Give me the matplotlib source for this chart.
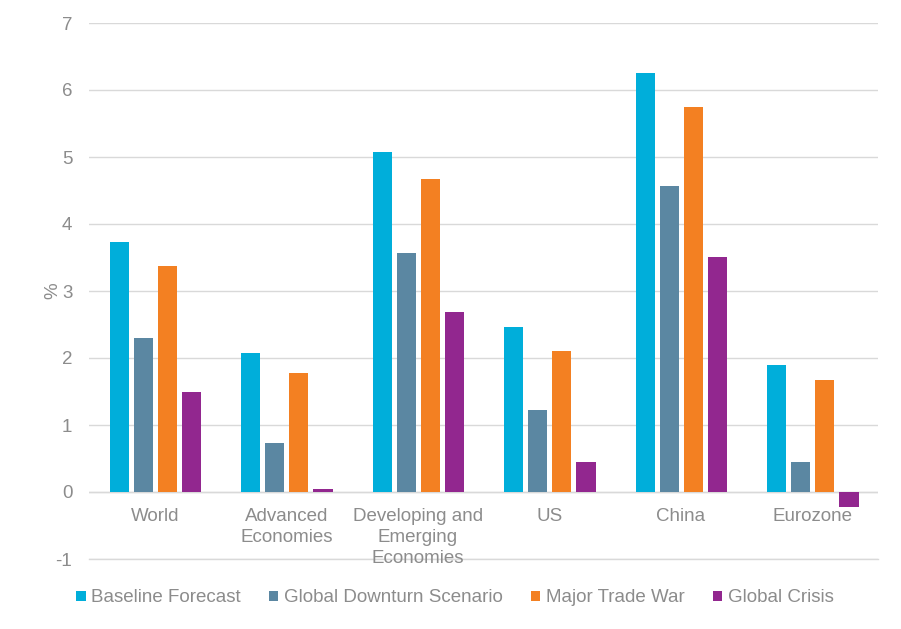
import matplotlib.pyplot as plt
import numpy as np

plt.rcParams['font.family'] = ['Liberation Sans', 'DejaVu Sans']
plt.rcParams['axes.unicode_minus'] = False

categories = ["World", "Advanced\nEconomies", "Developing and\nEmerging\nEconomies", "US", "China", "Eurozone"]
baseline = [3.73, 2.07, 5.07, 2.46, 6.25, 1.90]
downturn = [2.30, 0.73, 3.57, 1.22, 4.57, 0.45]
trade_war = [3.37, 1.78, 4.67, 2.10, 5.75, 1.67]
crisis = [1.49, 0.04, 2.69, 0.45, 3.51, -0.22]

series = [baseline, downturn, trade_war, crisis]
names = ["Baseline Forecast", "Global Downturn Scenario", "Major Trade War", "Global Crisis"]
colors = ["#00AEDA", "#5B87A2", "#F38022", "#92278F"]

fig = plt.figure(figsize=(9.01, 6.29), dpi=100)
ax = fig.add_axes([89/901, 1-559/629, 789/901, 536/629])

x = np.arange(len(categories))
step = 0.183
w = 0.145
for i, (vals, name, c) in enumerate(zip(series, names, colors)):
    ax.bar(x + (i - 1.5)*step + 0.005, vals, width=w, color=c, label=name, zorder=3)

ax.set_xlim(-0.5, len(categories) - 0.5)
ax.set_ylim(-1, 7)
ax.set_yticks(range(-1, 8))
ax.grid(axis='y', color='#D9D9D9', linewidth=1, zorder=0)
for s in ['top', 'right', 'left', 'bottom']:
    ax.spines[s].set_visible(False)
ax.axhline(0, color='#D9D9D9', linewidth=1, zorder=2)
ax.axhline(-1, color='#D9D9D9', linewidth=1, zorder=2, clip_on=False)  # bottom gridline

ax.set_xticks([])
ax.tick_params(axis='y', length=0, colors='#8C8C8C', labelsize=13.5, pad=12)

# category labels just below the zero line
for xi, cat in zip(x, categories):
    ax.text(xi, -0.24, cat, ha='center', va='top', color='#8C8C8C', fontsize=13.5,
            linespacing=1.3)

ax.set_ylabel("%", color='#8C8C8C', fontsize=13.5, labelpad=-4)

fig.legend(loc='center', bbox_to_anchor=(0.505, 1-598/629), ncol=4, frameon=False,
           fontsize=13.5, handlelength=0.5, handleheight=0.5, handletextpad=0.3,
           columnspacing=1.5, labelcolor='#8C8C8C')

fig.savefig("out.png", dpi=100)
